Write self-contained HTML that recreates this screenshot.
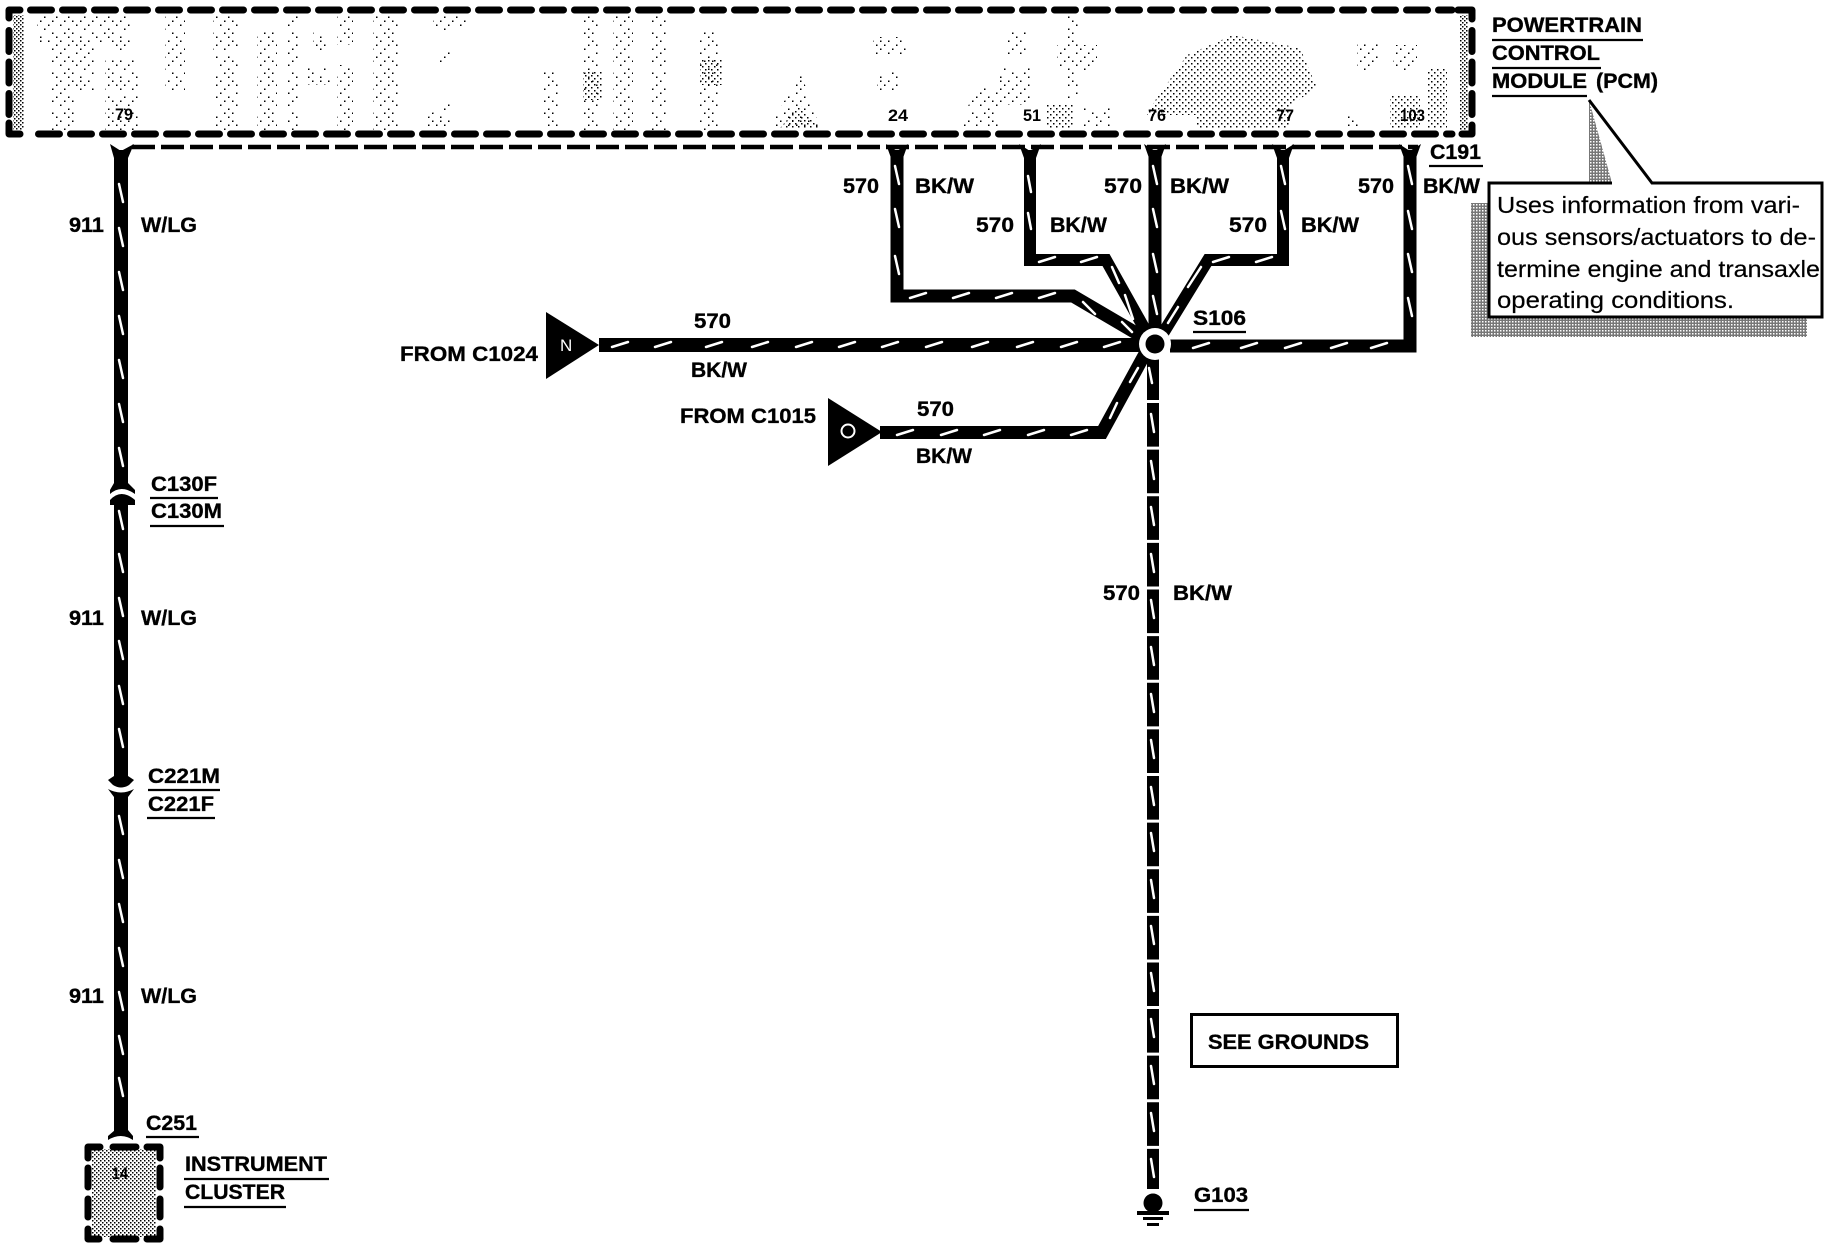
<!DOCTYPE html>
<html><head><meta charset="utf-8"><style>
html,body{margin:0;padding:0;background:#fff}
svg{display:block}
text{font-family:"Liberation Sans",sans-serif;fill:#000}
.b{font-weight:bold;font-size:21px;stroke:#000;stroke-width:.35px}
.p{font-weight:bold;font-size:17px}
.r{font-size:23px;stroke:#000;stroke-width:.2px}
</style></head><body>
<svg xmlns="http://www.w3.org/2000/svg" width="1824" height="1248" viewBox="0 0 1824 1248">
<defs>
<pattern id="sp" width="40" height="40" patternUnits="userSpaceOnUse"><path fill="none" stroke="#000" stroke-width="1.5" d="M0 1h1.500M8 1h1.500M20 1h1.500M32 1h1.500M4 5h1.500M16 5h1.500M28 5h1.500M36 5h1.500M0 9h1.500M12 9h1.500M24 9h1.500M8 13h1.500M20 13h1.500M36 13h1.500M4 17h1.500M16 17h1.500M28 17h1.500M0 21h1.500M12 21h1.500M24 21h1.500M32 21h1.500M8 25h1.500M20 25h1.500M36 25h1.500M4 29h1.500M28 29h1.500M12 33h1.500M24 33h1.500M32 33h1.500M0 37h1.500M16 37h1.500M28 37h1.500" shape-rendering="crispEdges"/></pattern>
<pattern id="md" width="6" height="6" patternUnits="userSpaceOnUse"><g fill="#000" shape-rendering="crispEdges"><rect x="0" y="0" width="1.5" height="1.5"/><rect x="3" y="3" width="1.5" height="1.5"/></g></pattern>
<pattern id="dn" width="4" height="4" patternUnits="userSpaceOnUse"><g fill="#000" shape-rendering="crispEdges"><rect x="0" y="0" width="1.5" height="1.5"/><rect x="2" y="2" width="1.5" height="1.5"/></g></pattern>
<pattern id="hv" width="3" height="3" patternUnits="userSpaceOnUse"><rect width="3" height="3" fill="#777"/><rect width="1.5" height="1.5" fill="#fff" shape-rendering="crispEdges"/></pattern>
</defs>
<rect width="1824" height="1248" fill="#fff"/>

<!-- module halftone -->
<g fill="url(#sp)">
<path d="M37 15H117V42H37ZM50 42H95V90H50ZM50 90H75V130H50ZM110 15H130V50H110ZM105 60H140V90H105ZM105 95H140V130H105Z"/>
<path d="M165 15H185V90H165ZM213 15H240V50H213ZM215 55H240V130H215ZM257 30H277V130H257ZM287 15H300V130H287ZM313 30H327V50H313ZM307 68H330V85H307ZM337 15H353V45H337ZM337 65H353V130H337ZM373 15H400V130H373Z"/>
<path d="M417 128L450 95V128ZM433 15H467V30H433ZM440 50H450V62H440ZM543 70H560V128H543ZM583 15H600V130H583ZM613 15H633V130H613ZM650 15H667V130H650ZM700 30H720V130H700Z"/>
<path d="M767 128L785 100L800 70L810 100L820 128ZM873 37H907V55H873ZM877 72H900V92H877ZM960 128L975 88H1000V128ZM1000 68H1030V105H1000ZM1007 32H1027V55H1007ZM1057 45H1097V72H1057ZM1067 15H1080V98H1067ZM1083 108H1110V128H1083Z"/>
<path d="M1357 42H1380V72H1357ZM1393 45H1417V72H1393ZM1343 115H1360V128H1343Z"/>
</g>
<g fill="url(#md)">
<path d="M1147 112L1187 55L1233 35L1300 48L1317 88L1290 105V128H1197V115H1147Z"/>
<rect x="583" y="72" width="20" height="28"/>
<rect x="700" y="60" width="22" height="25"/>
<rect x="1390" y="95" width="30" height="33"/>
<rect x="1427" y="68" width="20" height="60"/>
<path d="M780 128L800 105L820 128Z"/>
<rect x="1047" y="105" width="26" height="23"/>
</g>
<g fill="url(#dn)">
<rect x="13" y="15" width="11" height="115"/>
<rect x="1460" y="15" width="8" height="115"/>
</g>

<!-- module border -->
<g fill="none" stroke="#000" stroke-width="7" stroke-linecap="round" stroke-linejoin="round">
<path d="M30.500 10H1452" stroke-dasharray="21 11"/>
<path d="M38.500 134H1452" stroke-dasharray="21 11"/>
<path d="M9 27V112" stroke-dasharray="21 10.500" transform="translate(0,3.500)"/>
<path d="M1472 27V112" stroke-dasharray="21 10.500" transform="translate(0,3.500)"/>
<path d="M9 18V10H20M9 123V134H20M1458 10H1472V19M1472 125V134H1462"/>
</g>

<!-- C191 dash -->
<path d="M132 147H1418" fill="none" stroke="#000" stroke-width="4.500" stroke-dasharray="23 6"/>

<!-- wires -->
<g fill="none" stroke="#000" stroke-width="13" stroke-linejoin="miter">
<path d="M121 150V482M121 504V778M121 795V1134" stroke-width="14"/>
<path d="M897 150V296H1073L1148 340" stroke-width="13"/>
<path d="M1030 150V260H1106L1148 335" stroke-width="12"/>
<path d="M1283 150V260H1208L1162 335" stroke-width="12"/>
<path d="M1155 150V344" stroke-width="13"/>
<path d="M1410 150V346H1170" stroke-width="13"/>
<path d="M599 345H1150" stroke-width="14"/>
<path d="M880 432.500H1102L1146 352" stroke-width="13"/>
<path d="M1153 350V1189" stroke-width="12"/>
</g>
<path d="M1153 400V1150" fill="none" stroke="#fff" stroke-width="14" stroke-dasharray="3 43.620"/>

<!-- forks -->
<g fill="#000">
<path d="M110 144L121 151L134 144L128 158H114Z"/>
<path d="M886 144L897 151L908 144L903 158H891Z"/>
<path d="M1019 144L1030 151L1041 144L1036 158H1024Z"/>
<path d="M1144 144L1155 151L1166 144L1161 158H1149Z"/>
<path d="M1272 144L1283 151L1294 144L1289 158H1277Z"/>
<path d="M1399 144L1410 151L1421 144L1416 158H1404Z"/>
<!-- C130 -->
<path d="M114 478H128V483L135 490V494Q121 484 110 494V490L114 483Z"/>
<path d="M110 505V500Q121 488 135 500V505H128V510H114V505Z"/>
<!-- C221 -->
<path d="M114 772H128V776L134 780L129 785Q121 790 113 785L108 780L114 776Z"/>
<path d="M108 789Q121 796 134 789L128 797V802H114V797Z"/>
<!-- C251 -->
<path d="M115 1125H128V1130L133 1136V1140Q121 1132 108 1140V1136L115 1130Z"/>
</g>

<!-- triangles -->
<path d="M546 312L599 345L546 379Z" fill="#000"/>
<path d="M828 398L882 432L828 466Z" fill="#000"/>
<circle cx="848" cy="431" r="6.500" fill="none" stroke="#fff" stroke-width="2"/>
<text x="560" y="351" font-size="17" style="fill:#fff">N</text>

<!-- ticks -->
<g fill="none" stroke="#fff" stroke-width="2.500" stroke-linecap="round">
<path d="M119 184l4 18M119 228l4 18M119 272l4 18M119 316l4 18M119 360l4 18M119 404l4 18M119 448l4 18M119 511l4 18M119 554l4 18M119 598l4 18M119 641l4 18M119 686l4 18M119 729l4 18M119 816l4 18M119 860l4 18M119 904l4 18M119 948l4 18M119 992l4 18M119 1036l4 18M119 1078l4 18"/>
<path d="M895 166l4 18M895 209l4 18M895 256l4 18M1028 176l3 16M1028 213l3 16M1153 166l4 18M1153 209l4 18M1153 254l4 18M1153 296l4 18M1281 166l4 18M1281 211l4 18M1408 166l4 18M1408 211l4 18M1408 254l4 18M1408 298l4 18"/>
<path d="M910 298l16-5M953 298l16-5M996 298l16-5M1039 298l16-5M1039 262l16-5M1081 262l16-5M1213 262l16-5M1256 262l16-5"/>
<path d="M1193 348l16-5M1241 348l16-5M1285 348l16-5M1331 348l16-5M1371 348l16-5"/>
<path d="M612 347l16-5M655 347l16-5M706 347l16-5M752 347l16-5M796 347l16-5M839 347l16-5M882 347l16-5M926 347l16-5M972 347l16-5M1017 347l16-5M1061 347l16-5M1104 347l16-5"/>
<path d="M897 435l16-5M941 435l16-5M984 435l16-5M1028 435l16-5M1071 435l16-5"/>
<path d="M1083 302l12 12M1122 322l10 10M1112 267l7 16M1125 295l8 24M1201 267l-13 20M1178 307l-10 16M1117 403l-7 15M1138 368l-8 14M1149 368l3 15"/>
<path d="M1151 414l3 18M1151 461l3 18M1151 507l3 18M1151 554l3 18M1151 600l3 18M1151 647l3 18M1151 694l3 18M1151 740l3 18M1151 787l3 18M1151 833l3 18M1151 880l3 18M1151 926l3 18M1151 973l3 18M1151 1019l3 18M1151 1066l3 18M1151 1113l3 18M1151 1159l3 18"/>
</g>

<!-- hub -->
<circle cx="1155" cy="344" r="16" fill="#fff"/>
<circle cx="1155" cy="344" r="9.500" fill="#000"/>

<!-- ground -->
<circle cx="1153" cy="1203" r="9.500" fill="#000"/>
<rect x="1137" y="1211" width="32" height="4" fill="#000"/>
<rect x="1143" y="1217" width="20" height="3" fill="#000"/>
<rect x="1147" y="1223" width="12" height="3" fill="#000"/>

<!-- cluster -->
<rect x="92" y="1149" width="64" height="88" fill="url(#dn)"/>
<g fill="none" stroke="#000" stroke-width="7" stroke-linecap="round" stroke-linejoin="round">
<path d="M88 1158V1147H100M113 1147H136M147 1147H160V1158M88 1168V1187M88 1199V1217M88 1229V1239H99M113 1239H136M147 1239H160V1229M160 1168V1187M160 1199V1217"/>
</g>
<text class="p" x="112" y="1179" textLength="16" lengthAdjust="spacingAndGlyphs">14</text>

<!-- see grounds -->
<rect x="1191.500" y="1014.500" width="206" height="52" fill="none" stroke="#000" stroke-width="3"/>

<!-- callout -->
<path d="M1589 100L1612 183H1589Z" fill="url(#hv)"/>
<rect x="1471" y="203" width="336" height="134" fill="url(#hv)"/>
<rect x="1489" y="183" width="334" height="134" fill="#fff"/>
<path d="M1612 183H1489V317H1822V183H1652L1589 100" fill="none" stroke="#000" stroke-width="3"/>
<text class="r" x="1497" y="213" textLength="303" lengthAdjust="spacingAndGlyphs">Uses information from vari-</text>
<text class="r" x="1497" y="245" textLength="319" lengthAdjust="spacingAndGlyphs">ous sensors/actuators to de-</text>
<text class="r" x="1497" y="277" textLength="323" lengthAdjust="spacingAndGlyphs">termine engine and transaxle</text>
<text class="r" x="1497" y="308" textLength="237" lengthAdjust="spacingAndGlyphs">operating conditions.</text>

<!-- underlines -->
<g stroke="#000" stroke-width="2.200" fill="none">
<path d="M1492 40H1643M1492 68H1601M1492 96H1587M1429 166H1483M1193 332H1246M150 498H218M150 526H224M148 790H220M147 818H215M146 1137H199M184 1179H329M184 1207H286M1194 1210H1249"/>
</g>

<!-- labels -->
<g>
<text class="b" x="1492" y="32" textLength="150" lengthAdjust="spacingAndGlyphs">POWERTRAIN</text>
<text class="b" x="1492" y="60" textLength="108" lengthAdjust="spacingAndGlyphs">CONTROL</text>
<text class="b" x="1492" y="88" textLength="95" lengthAdjust="spacingAndGlyphs">MODULE</text>
<text class="b" x="1596" y="88" textLength="62" lengthAdjust="spacingAndGlyphs">(PCM)</text>
<text class="b" x="1430" y="159" textLength="51" lengthAdjust="spacingAndGlyphs">C191</text>
<text class="b" x="69" y="232" textLength="35" lengthAdjust="spacingAndGlyphs">911</text>
<text class="b" x="141" y="232" textLength="56" lengthAdjust="spacingAndGlyphs">W/LG</text>
<text class="b" x="69" y="625" textLength="35" lengthAdjust="spacingAndGlyphs">911</text>
<text class="b" x="141" y="625" textLength="56" lengthAdjust="spacingAndGlyphs">W/LG</text>
<text class="b" x="69" y="1003" textLength="35" lengthAdjust="spacingAndGlyphs">911</text>
<text class="b" x="141" y="1003" textLength="56" lengthAdjust="spacingAndGlyphs">W/LG</text>
<text class="b" x="151" y="491" textLength="66" lengthAdjust="spacingAndGlyphs">C130F</text>
<text class="b" x="151" y="518" textLength="71" lengthAdjust="spacingAndGlyphs">C130M</text>
<text class="b" x="148" y="783" textLength="72" lengthAdjust="spacingAndGlyphs">C221M</text>
<text class="b" x="148" y="811" textLength="66" lengthAdjust="spacingAndGlyphs">C221F</text>
<text class="b" x="146" y="1130" textLength="51" lengthAdjust="spacingAndGlyphs">C251</text>
<text class="b" x="185" y="1171" textLength="142" lengthAdjust="spacingAndGlyphs">INSTRUMENT</text>
<text class="b" x="185" y="1199" textLength="100" lengthAdjust="spacingAndGlyphs">CLUSTER</text>
<text class="b" x="843" y="193" textLength="36" lengthAdjust="spacingAndGlyphs">570</text>
<text class="b" x="915" y="193" textLength="59" lengthAdjust="spacingAndGlyphs">BK/W</text>
<text class="b" x="1104" y="193" textLength="38" lengthAdjust="spacingAndGlyphs">570</text>
<text class="b" x="1170" y="193" textLength="59" lengthAdjust="spacingAndGlyphs">BK/W</text>
<text class="b" x="1358" y="193" textLength="36" lengthAdjust="spacingAndGlyphs">570</text>
<text class="b" x="1423" y="193" textLength="57" lengthAdjust="spacingAndGlyphs">BK/W</text>
<text class="b" x="976" y="232" textLength="38" lengthAdjust="spacingAndGlyphs">570</text>
<text class="b" x="1050" y="232" textLength="57" lengthAdjust="spacingAndGlyphs">BK/W</text>
<text class="b" x="1229" y="232" textLength="38" lengthAdjust="spacingAndGlyphs">570</text>
<text class="b" x="1301" y="232" textLength="58" lengthAdjust="spacingAndGlyphs">BK/W</text>
<text class="b" x="1193" y="325" textLength="53" lengthAdjust="spacingAndGlyphs">S106</text>
<text class="b" x="694" y="328" textLength="37" lengthAdjust="spacingAndGlyphs">570</text>
<text class="b" x="691" y="377" textLength="56" lengthAdjust="spacingAndGlyphs">BK/W</text>
<text class="b" x="400" y="361" textLength="138" lengthAdjust="spacingAndGlyphs">FROM C1024</text>
<text class="b" x="680" y="423" textLength="136" lengthAdjust="spacingAndGlyphs">FROM C1015</text>
<text class="b" x="917" y="416" textLength="37" lengthAdjust="spacingAndGlyphs">570</text>
<text class="b" x="916" y="463" textLength="56" lengthAdjust="spacingAndGlyphs">BK/W</text>
<text class="b" x="1103" y="600" textLength="37" lengthAdjust="spacingAndGlyphs">570</text>
<text class="b" x="1173" y="600" textLength="59" lengthAdjust="spacingAndGlyphs">BK/W</text>
<text class="b" x="1208" y="1049" textLength="161" lengthAdjust="spacingAndGlyphs">SEE GROUNDS</text>
<text class="b" x="1194" y="1202" textLength="54" lengthAdjust="spacingAndGlyphs">G103</text>
<text class="p" x="115" y="120" textLength="18" lengthAdjust="spacingAndGlyphs">79</text>
<text class="p" x="888" y="121" textLength="20" lengthAdjust="spacingAndGlyphs">24</text>
<text class="p" x="1023" y="121" textLength="18" lengthAdjust="spacingAndGlyphs">51</text>
<text class="p" x="1148" y="121" textLength="18" lengthAdjust="spacingAndGlyphs">76</text>
<text class="p" x="1276" y="121" textLength="18" lengthAdjust="spacingAndGlyphs">77</text>
<text class="p" x="1400" y="121" textLength="25" lengthAdjust="spacingAndGlyphs">103</text>
</g>
</svg>
</body></html>
